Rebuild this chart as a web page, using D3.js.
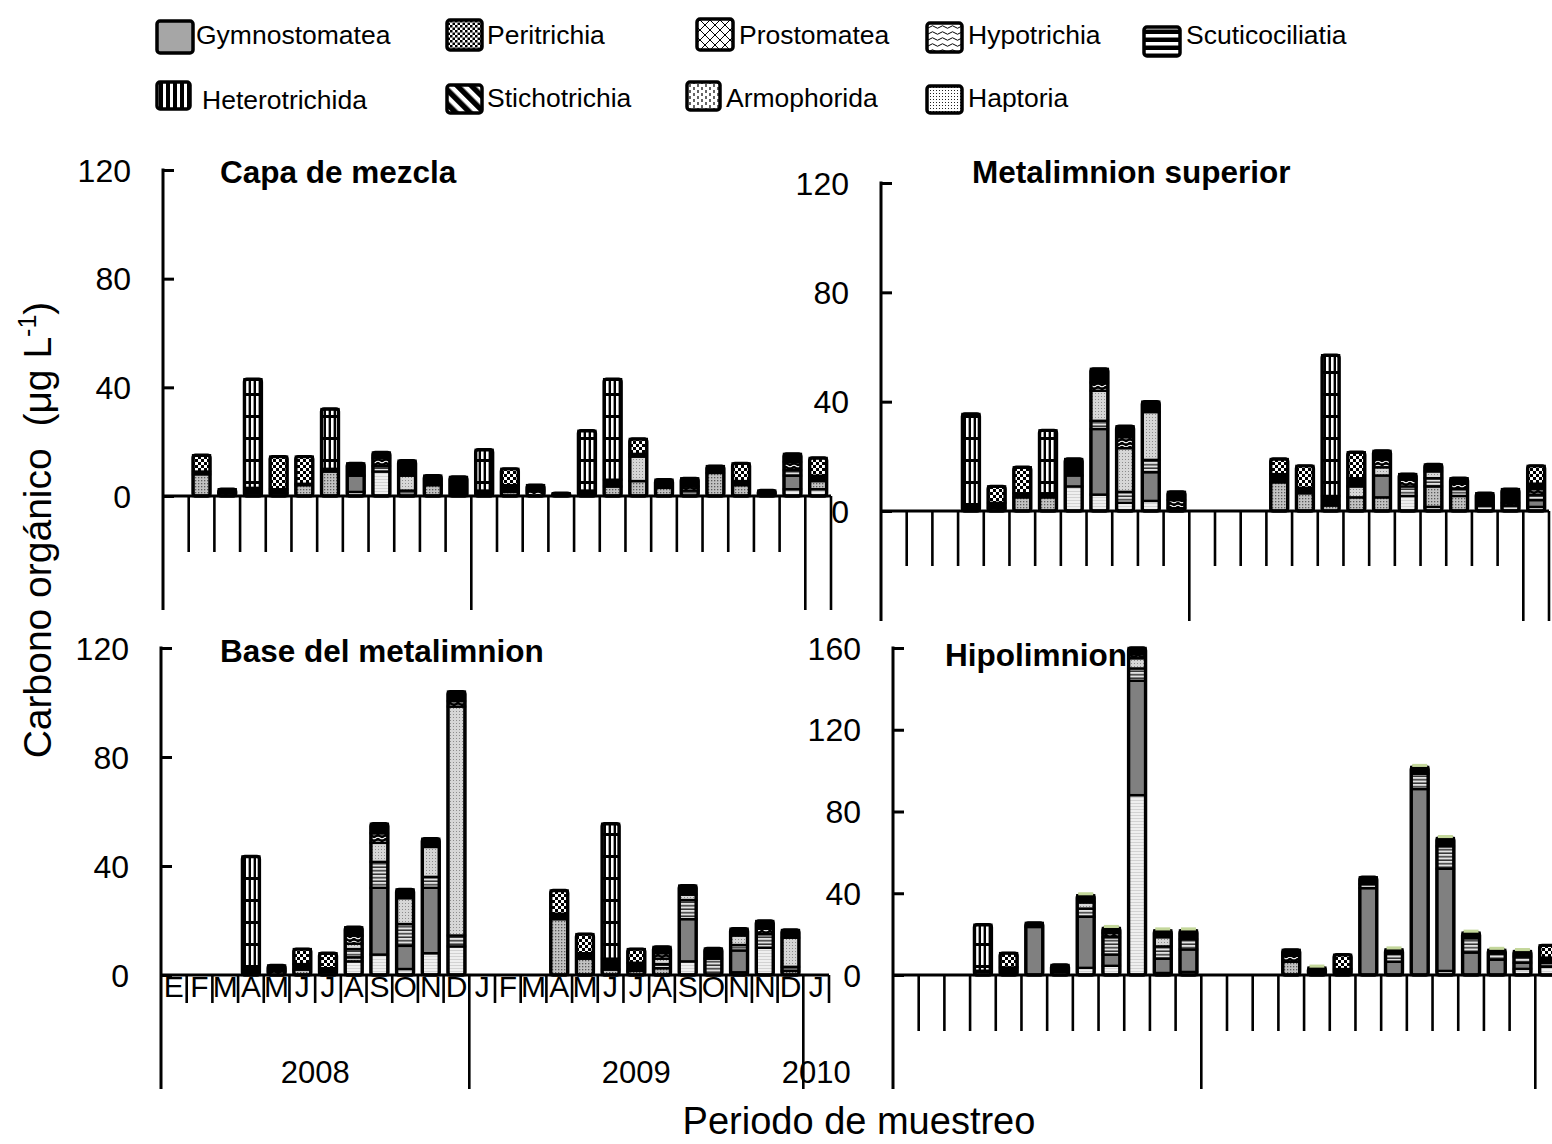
<!DOCTYPE html>
<html>
<head>
<meta charset="utf-8">
<script src="https://cdn.jsdelivr.net/npm/d3@7"></script>
<style>
  html, body { margin: 0; padding: 0; background: #fff; }
  svg { display: block; font-family: "Liberation Sans", Arial, sans-serif; }
</style>
</head>
<body>
<svg id="chart" width="1552" height="1144"></svg>
<script>
// months of the sampling period (E 2008 .. J 2010), two samples in Nov 2009
const months = ["E","F","M","A","M","J","J","A","S","O","N","D",
                "J","F","M","A","M","J","J","A","S","O","N","N","D","J"];
const yearLabels = ["2008", "2009", "2010"];
const yearStarts = [0, 12, 25, 26];

const seriesNames = ["Gymnostomatea","Peritrichia","Prostomatea","Hypotrichia","Scuticociliatia",
                     "Heterotrichida","Stichotrichia","Armophorida","Haptoria"];
const seriesKeys  = ["Gym","Per","Pro","Hyp","Scu","Het","Sti","Arm","Hap"];
// stacking order, bottom -> top ("Otr" = thin unlabelled green layer)
const stackOrder  = ["Hap","Arm","Gym","Scu","Pro","Hyp","Sti","Per","Het","Otr"];

// carbono orgánico (µg L-1), one object per month
const capaMezcla = [
  {}, {Arm:8, Sti:1, Per:6}, {Hyp:1, Sti:1.5}, {Arm:1, Sti:2, Het:40},
  {Hap:1, Sti:1.5, Per:12}, {Arm:4, Sti:0.5, Per:10}, {Arm:9, Sti:1, Het:22},
  {Hap:1.5, Gym:6, Sti:4.5}, {Hap:9, Scu:2, Hyp:3, Sti:2}, {Scu:2, Pro:5.5, Sti:5.5},
  {Arm:4, Sti:3.5}, {Hap:0.5, Sti:6.5},
  {Sti:2, Het:15}, {Arm:1.5, Sti:2.5, Per:6}, {Hyp:2, Sti:2}, {Sti:1},
  {Sti:2, Het:22}, {Arm:3.5, Sti:2.5, Het:37}, {Arm:5.5, Pro:9, Sti:1, Per:5.5},
  {Arm:3, Sti:3}, {Scu:2, Hyp:1.5, Sti:3}, {Arm:8.5, Sti:2.5}, {Arm:4, Sti:1.5, Per:6.5},
  {Sti:2}, {Hap:2.5, Gym:5, Scu:2, Hyp:3, Sti:3},
  {Hap:2.5, Arm:3, Sti:2, Per:6.5}
];
const metalimnionSuperior = [
  {}, {}, {}, {Sti:1.5, Het:34}, {Hyp:1, Sti:2, Per:6}, {Arm:5, Sti:1.5, Per:9.5},
  {Arm:5, Sti:1.5, Het:23}, {Hap:9, Gym:4, Sti:6},
  {Hap:6, Gym:24, Scu:3, Pro:11, Hyp:3, Sti:5}, {Hap:3, Scu:4, Pro:16, Hyp:4, Sti:4},
  {Hap:3.7, Gym:10.5, Scu:4.5, Pro:17.5, Sti:3.8}, {Arm:1, Hyp:3, Sti:3},
  {}, {}, {}, {Arm:10.5, Sti:3, Per:5.5}, {Arm:6.5, Sti:2, Per:8},
  {Arm:2, Sti:3.5, Het:51.5}, {Arm:5, Pro:4, Sti:3, Per:9.5},
  {Arm:5, Gym:8, Pro:3, Hyp:3, Sti:3}, {Hap:5.5, Scu:3.5, Hyp:2.5, Sti:2},
  {Hap:1.5, Arm:7.5, Scu:3, Pro:2.5, Sti:2.5}, {Arm:5.5, Scu:2.5, Hyp:2, Sti:2},
  {Scu:2, Sti:4.5}, {Scu:2, Hyp:1, Sti:5},
  {Hap:1.5, Gym:2.5, Scu:2, Hyp:2, Sti:2, Per:6.5}
];
const baseMetalimnion = [
  {}, {}, {}, {Sti:2.5, Het:41}, {Hyp:1.5, Sti:2}, {Arm:2, Sti:2, Per:5.5},
  {Arm:1, Sti:1.5, Per:5.5}, {Hap:5, Arm:1.5, Scu:3, Pro:2, Hyp:3, Sti:3},
  {Hap:7.5, Gym:24.5, Scu:9.5, Pro:7, Hyp:3.5, Sti:3.5},
  {Hap:2.2, Gym:8.5, Scu:8, Pro:9.5, Sti:3.2}, {Hap:8, Gym:24, Scu:4, Pro:11, Sti:3},
  {Hap:10.5, Scu:4, Pro:84, Hyp:2, Sti:3.5},
  {}, {}, {}, {Arm:20.5, Sti:2, Per:8.5}, {Arm:6, Sti:2, Per:7},
  {Arm:2, Sti:4, Het:49.5}, {Arm:1.5, Sti:3, Per:5},
  {Arm:2.5, Scu:1.5, Pro:2, Hyp:2, Sti:2.3}, {Hap:5, Gym:15.5, Scu:7, Pro:2, Sti:3.3},
  {Scu:6, Sti:3.7}, {Hap:1, Gym:8, Scu:2, Pro:3.5, Sti:2.5}, {Hap:10, Scu:5, Hyp:2, Sti:2.8},
  {Arm:1.5, Scu:1.5, Pro:10.7, Sti:2.8},
  {}
];
const hipolimnion = [
  {}, {}, {}, {Arm:1.5, Sti:0.6, Het:22.5}, {Sti:3.7, Per:7}, {Gym:23.5, Sti:2},
  {Arm:1.5, Sti:3.4}, {Hap:3.5, Gym:25, Scu:4, Pro:3, Sti:3.5, Otr:1.5},
  {Hap:4.5, Gym:5.5, Scu:8.5, Hyp:2, Sti:2.5, Otr:1.5},
  {Hap:88, Gym:56, Scu:6, Pro:5, Hyp:2, Sti:3},
  {Hap:1, Gym:7, Scu:6, Pro:4.5, Sti:3.3, Otr:1.5}, {Hap:1.5, Gym:11, Scu:5, Sti:4.3, Otr:1.5},
  {}, {}, {}, {Arm:6.5, Hyp:3, Sti:2.8}, {Sti:3.6, Otr:1.5}, {Sti:2.9, Per:7},
  {Gym:42.5, Scu:2, Sti:3.3}, {Gym:6.5, Scu:4, Sti:2, Otr:1.5},
  {Gym:91, Scu:7.5, Sti:3.3, Otr:1.5}, {Hap:2, Gym:50, Scu:11, Sti:4, Otr:1.5},
  {Gym:11, Scu:7, Sti:2.7, Otr:1.5}, {Gym:7.5, Scu:3, Sti:1.8, Otr:1.5},
  {Hap:3, Gym:3, Scu:3, Sti:2.7, Otr:1.5},
  {Hap:4, Scu:2, Sti:2.5, Per:6}
];

const svg = d3.select("#chart");
const defs = svg.append("defs");

// pattern helper
function pattern(id, w, h, bg, draw) {
  const p = defs.append("pattern").attr("id", id)
    .attr("patternUnits", "userSpaceOnUse").attr("width", w).attr("height", h);
  p.append("rect").attr("width", w).attr("height", h).attr("fill", bg);
  if (draw) draw(p);
}

// fills as they look inside the small bars
pattern("bPer", 6, 6, "#fff", p => {
  p.append("rect").attr("width", 3).attr("height", 3).attr("fill", "#000");
  p.append("rect").attr("x", 3).attr("y", 3).attr("width", 3).attr("height", 3).attr("fill", "#000");
});
pattern("bPro", 3, 3, "#d6d6d6", p => {
  p.append("rect").attr("width", 1).attr("height", 1).attr("fill", "#8c8c8c");
});
pattern("bHyp", 8, 4, "#000", p => {
  p.append("path").attr("d", "M0,2 Q2,0.5 4,2 T8,2").attr("fill", "none")
    .attr("stroke", "#fff").attr("stroke-width", 1.1);
});
pattern("bScu", 4, 3.5, "#e2e2e2", p => {
  p.append("rect").attr("y", 2).attr("width", 4).attr("height", 1.5).attr("fill", "#333");
});
pattern("bHet", 5, 22, "#000", p => {
  p.append("rect").attr("x", 1).attr("width", 2.6).attr("height", 19).attr("fill", "#fff");
});
pattern("bArm", 3, 3, "#c2c2c2", p => {
  p.append("rect").attr("width", 1.3).attr("height", 1.3).attr("fill", "#5a5a5a");
});
pattern("bHap", 2, 3, "#efefef", p => {
  p.append("rect").attr("y", 2).attr("width", 2).attr("height", 1).attr("fill", "#d2d2d2");
});

// fills as they look in the legend boxes
pattern("lPer", 5, 5, "#fff", p => {
  p.append("rect").attr("width", 2.5).attr("height", 2.5).attr("fill", "#000");
  p.append("rect").attr("x", 2.5).attr("y", 2.5).attr("width", 2.5).attr("height", 2.5).attr("fill", "#000");
});
pattern("lPro", 10, 10, "#fff", p => {
  p.append("path").attr("d", "M0,0 L10,10 M10,0 L0,10").attr("stroke", "#000").attr("stroke-width", 1);
});
pattern("lHyp", 10, 6, "#fff", p => {
  p.append("path").attr("d", "M0,3 Q2.5,0.5 5,3 T10,3").attr("fill", "none")
    .attr("stroke", "#000").attr("stroke-width", 1);
});
pattern("lScu", 8, 8, "#000", p => {
  p.append("rect").attr("y", 2).attr("width", 8).attr("height", 3.5).attr("fill", "#fff");
});
pattern("lHet", 7, 7, "#000", p => {
  p.append("rect").attr("x", 2).attr("width", 3).attr("height", 7).attr("fill", "#fff");
});
pattern("lSti", 10, 10, "#fff", p => {
  p.attr("patternTransform", "rotate(-45)");
  p.append("rect").attr("width", 5.5).attr("height", 10).attr("fill", "#000");
});
pattern("lArm", 8, 6, "#fff", p => {
  p.append("path").attr("d", "M2,0 V3 M6,3 V6").attr("stroke", "#000").attr("stroke-width", 1.2);
});
pattern("lHap", 3, 3, "#fff", p => {
  p.append("rect").attr("width", 1).attr("height", 1).attr("fill", "#222");
});

const barFill = {
  Gym: "#808080", Per: "url(#bPer)", Pro: "url(#bPro)", Hyp: "url(#bHyp)", Scu: "url(#bScu)",
  Het: "url(#bHet)", Sti: "#000", Arm: "url(#bArm)", Hap: "url(#bHap)", Otr: "#c4d79b"
};
const legendFill = {
  Gym: "#a6a6a6", Per: "url(#lPer)", Pro: "url(#lPro)", Hyp: "url(#lHyp)", Scu: "url(#lScu)",
  Het: "url(#lHet)", Sti: "url(#lSti)", Arm: "url(#lArm)", Hap: "url(#lHap)"
};

// ---- legend ----
const legendLayout = [
  [157, 21, 36, 32, 196, 44], [447, 20, 35, 30, 487, 44], [697, 19, 36, 31, 739, 44],
  [927, 23, 35, 29, 968, 44], [1144, 27, 36, 29, 1186, 44],
  [157, 82, 33, 27, 202, 109], [447, 85, 35, 28, 487, 107], [687, 82, 33, 28, 726, 107],
  [927, 86, 35, 27, 968, 107]
];
const legend = svg.append("g").attr("class", "legend");
seriesKeys.forEach((k, i) => {
  const [bx, by, bw, bh, tx, ty] = legendLayout[i];
  legend.append("rect").attr("x", bx).attr("y", by).attr("width", bw).attr("height", bh)
    .attr("rx", 3).attr("fill", legendFill[k]).attr("stroke", "#000").attr("stroke-width", 3.5);
  legend.append("text").attr("x", tx).attr("y", ty).attr("font-size", 26.5).text(seriesNames[i]);
});

// ---- panels ----
const panels = [
  {title: "Capa de mezcla", rows: capaMezcla, x0: 163, y0: 496, yTop: 170, max: 120,
   ticks: [0, 40, 80, 120], tx: 220, ty: 183, monthLen: 56, yearLen: 114, endLong: true, labels: false},
  {title: "Metalimnion superior", rows: metalimnionSuperior, x0: 881, y0: 511, yTop: 183, max: 120,
   ticks: [0, 40, 80, 120], tx: 972, ty: 183, monthLen: 55, yearLen: 110, endLong: true, labels: false},
  {title: "Base del metalimnion", rows: baseMetalimnion, x0: 161, y0: 975, yTop: 648, max: 120,
   ticks: [0, 40, 80, 120], tx: 220, ty: 662, monthLen: 28, yearLen: 114, endLong: false, labels: true},
  {title: "Hipolimnion", rows: hipolimnion, x0: 893, y0: 975, yTop: 648, max: 160,
   ticks: [0, 40, 80, 120, 160], tx: 945, ty: 666, monthLen: 56, yearLen: 114, endLong: false, labels: false}
];
const panelWidth = 668;

panels.forEach(cfg => {
  const g = svg.append("g");
  const x = d3.scaleBand().domain(d3.range(months.length))
    .range([cfg.x0, cfg.x0 + panelWidth]).paddingInner(0.34).paddingOuter(0.17);
  const y = d3.scaleLinear().domain([0, cfg.max]).range([cfg.y0, cfg.yTop]);
  const step = x.step();

  const table = cfg.rows.map(r => Object.fromEntries(stackOrder.map(k => [k, r[k] || 0])));
  const layers = d3.stack().keys(stackOrder)(table);

  // category boundary ticks below the axis
  const bounds = d3.range(1, months.length + 1);
  g.append("g").selectAll("line").data(bounds).join("line")
    .attr("x1", i => cfg.x0 + i * step).attr("x2", i => cfg.x0 + i * step)
    .attr("y1", cfg.y0)
    .attr("y2", i => {
      if (yearStarts.slice(1, 3).includes(i)) return cfg.y0 + cfg.yearLen;
      if (i === months.length && cfg.endLong) return cfg.y0 + cfg.yearLen;
      return cfg.y0 + cfg.monthLen;
    })
    .attr("stroke", "#000").attr("stroke-width", 2.6);

  // bar segments
  layers.filter(l => l.key !== "Otr").forEach(layer => {
    g.append("g").selectAll("rect")
      .data(layer.map((d, i) => ({i, a: d[0], b: d[1]})).filter(d => d.b > d.a))
      .join("rect")
      .attr("x", d => x(d.i)).attr("width", x.bandwidth())
      .attr("y", d => y(d.b)).attr("height", d => y(d.a) - y(d.b))
      .attr("fill", barFill[layer.key]).attr("stroke", "#000").attr("stroke-width", 2.4);
  });

  // bar outlines
  const totals = table.map((r, i) => ({i, t: d3.sum(stackOrder.filter(k => k !== "Otr"), k => r[k])}));
  g.append("g").selectAll("rect").data(totals.filter(d => d.t > 0)).join("rect")
    .attr("x", d => x(d.i)).attr("width", x.bandwidth())
    .attr("y", d => y(d.t)).attr("height", d => y(0) - y(d.t))
    .attr("rx", 2.5).attr("fill", "none").attr("stroke", "#000").attr("stroke-width", 3.4);

  // thin green top layer
  const otr = layers.find(l => l.key === "Otr");
  g.append("g").selectAll("rect")
    .data(otr.map((d, i) => ({i, a: d[0], b: d[1]})).filter(d => d.b > d.a))
    .join("rect")
    .attr("x", d => x(d.i) + 1).attr("width", x.bandwidth() - 2)
    .attr("y", d => y(d.b)).attr("height", d => y(d.a) - y(d.b))
    .attr("fill", barFill.Otr);

  // x axis line
  g.append("line").attr("x1", cfg.x0).attr("x2", cfg.x0 + panelWidth)
    .attr("y1", cfg.y0).attr("y2", cfg.y0).attr("stroke", "#000").attr("stroke-width", 3);

  // y axis: ticks inward, labels outside
  const yAxis = g.append("g").attr("transform", `translate(${cfg.x0},0)`)
    .call(d3.axisLeft(y).tickValues(cfg.ticks).tickSize(-11).tickSizeOuter(0).tickPadding(32));
  yAxis.select(".domain").remove();
  yAxis.selectAll(".tick line").attr("stroke-width", 3);
  yAxis.selectAll(".tick text").attr("font-size", 32).attr("font-family", "Liberation Sans, Arial, sans-serif")
    .attr("dy", "0.35em");
  g.append("line").attr("x1", cfg.x0).attr("x2", cfg.x0)
    .attr("y1", cfg.yTop - 1.5).attr("y2", cfg.y0 + cfg.yearLen)
    .attr("stroke", "#000").attr("stroke-width", 3);

  // month and year labels
  if (cfg.labels) {
    g.append("g").selectAll("text").data(months).join("text")
      .attr("x", (d, i) => x(i) + x.bandwidth() / 2).attr("y", cfg.y0 + 22)
      .attr("text-anchor", "middle").attr("font-size", 30).text(d => d);
    g.append("g").selectAll("text").data(yearLabels).join("text")
      .attr("x", (d, i) => cfg.x0 + (yearStarts[i] + yearStarts[i + 1]) / 2 * step)
      .attr("y", cfg.y0 + 108).attr("text-anchor", "middle").attr("font-size", 31).text(d => d);
  }

  // panel title
  g.append("text").attr("x", cfg.tx).attr("y", cfg.ty)
    .attr("font-size", 31.5).attr("font-weight", "bold").text(cfg.title);
});

// axis titles
svg.append("text").attr("transform", "translate(51,530) rotate(-90)")
  .attr("text-anchor", "middle").attr("font-size", 39).style("white-space", "pre")
  .call(t => {
    t.append("tspan").text("Carbono orgánico  (μg L");
    t.append("tspan").attr("font-size", 25).attr("dy", -15).text("-1");
    t.append("tspan").attr("dy", 15).text(")");
  });
svg.append("text").attr("x", 859).attr("y", 1134).attr("text-anchor", "middle")
  .attr("font-size", 38).text("Periodo de muestreo");
</script>
</body>
</html>
